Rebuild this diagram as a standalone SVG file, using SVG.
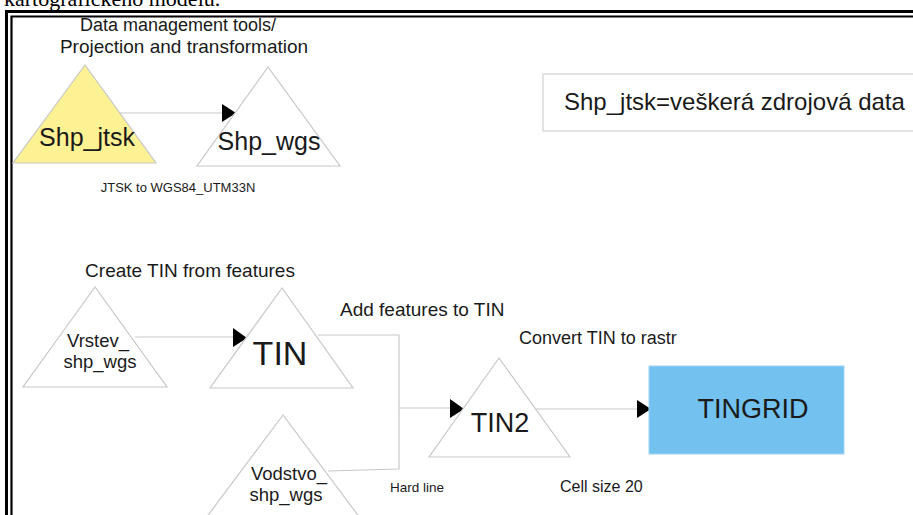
<svg xmlns="http://www.w3.org/2000/svg" width="913" height="515" viewBox="0 0 913 515">
<defs>
<style>
text{font-family:"Liberation Sans",Arial,sans-serif;fill:#1a1a1a}
.tri{fill:#fff;stroke:#c8c8c8;stroke-width:1.2}
.con{fill:none;stroke:#c8c8c8;stroke-width:1.2}
.ah{fill:#000}
</style>
</defs>
<rect width="913" height="515" fill="#fff"/>
<text x="4" y="6" style="font-family:'Liberation Serif','Times New Roman',serif;font-size:22px;fill:#000">kartografického modelu.</text>
<g id="frame" fill="none" stroke="#000">
<path d="M6.5 515V11.5H913" stroke-width="3"/>
<path d="M11.5 515V16.5H913" stroke-width="2.2"/>
</g>
<g id="title">
<text x="178" y="31" text-anchor="middle" font-size="18">Data management tools/</text>
<text x="184" y="53" text-anchor="middle" font-size="19">Projection and transformation</text>
</g>
<g id="connectors">
<line class="con" x1="120" y1="113" x2="223" y2="113"/>
<polygon class="ah" points="222,104 236,113 222,122"/>
<line class="con" x1="135" y1="337" x2="234" y2="337"/>
<polygon class="ah" points="233,328 247,338 233,347"/>
<polyline class="con" points="318,335 399,335 399,469 328,471"/>
<line class="con" x1="399" y1="408" x2="451" y2="408"/>
<polygon class="ah" points="450,399 464,409 450,418"/>
<line class="con" x1="534" y1="409" x2="638" y2="409"/>
<polygon class="ah" points="637,400 651,409 637,418"/>
</g>
<g id="shp_jtsk">
<polygon points="85,65 13,163 156,163" fill="#fcf193" stroke="#c8c8c8" stroke-width="1.2"/>
<text x="87" y="146" text-anchor="middle" font-size="25">Shp_jtsk</text>
</g>
<g id="shp_wgs">
<polygon class="tri" points="268,67 197,166 340,166"/>
<text x="269" y="150" text-anchor="middle" font-size="25">Shp_wgs</text>
</g>
<text id="lbl-jtsk" x="178" y="192" text-anchor="middle" font-size="13">JTSK to WGS84_UTM33N</text>
<g id="legend">
<rect x="543" y="74" width="380" height="57" fill="#fff" stroke="#d0d0d0" stroke-width="1.2"/>
<text x="564" y="110" font-size="24">Shp_jtsk=veškerá zdrojová data</text>
</g>
<text id="lbl-create" x="190" y="277" text-anchor="middle" font-size="19">Create TIN from features</text>
<g id="vrstev">
<polygon class="tri" points="95,287 23,387 167,387"/>
<text x="98" y="347" text-anchor="middle" font-size="18.5">Vrstev_</text>
<text x="100" y="368" text-anchor="middle" font-size="18.5">shp_wgs</text>
</g>
<g id="tin">
<polygon class="tri" points="282,288 210,388 353,388"/>
<text x="280" y="365" text-anchor="middle" font-size="34">TIN</text>
</g>
<text id="lbl-add" x="340" y="316" font-size="19">Add features to TIN</text>
<text id="lbl-convert" x="519" y="344" font-size="18">Convert TIN to rastr</text>
<g id="tin2">
<polygon class="tri" points="499,358 429,457 570,457"/>
<text x="500" y="432" text-anchor="middle" font-size="27">TIN2</text>
</g>
<g id="tingrid">
<rect x="649" y="366" width="195" height="88" fill="#72c1ee" stroke="#9fd3f2" stroke-width="1"/>
<text x="753" y="418" text-anchor="middle" font-size="27">TINGRID</text>
</g>
<g id="vodstvo">
<polygon class="tri" points="283,415 197,530 369,530"/>
<text x="289" y="480" text-anchor="middle" font-size="18.5">Vodstvo_</text>
<text x="286" y="501" text-anchor="middle" font-size="18.5">shp_wgs</text>
</g>
<text id="lbl-hard" x="390" y="492" font-size="13.5">Hard line</text>
<text id="lbl-cell" x="560" y="492" font-size="16">Cell size 20</text>
</svg>
